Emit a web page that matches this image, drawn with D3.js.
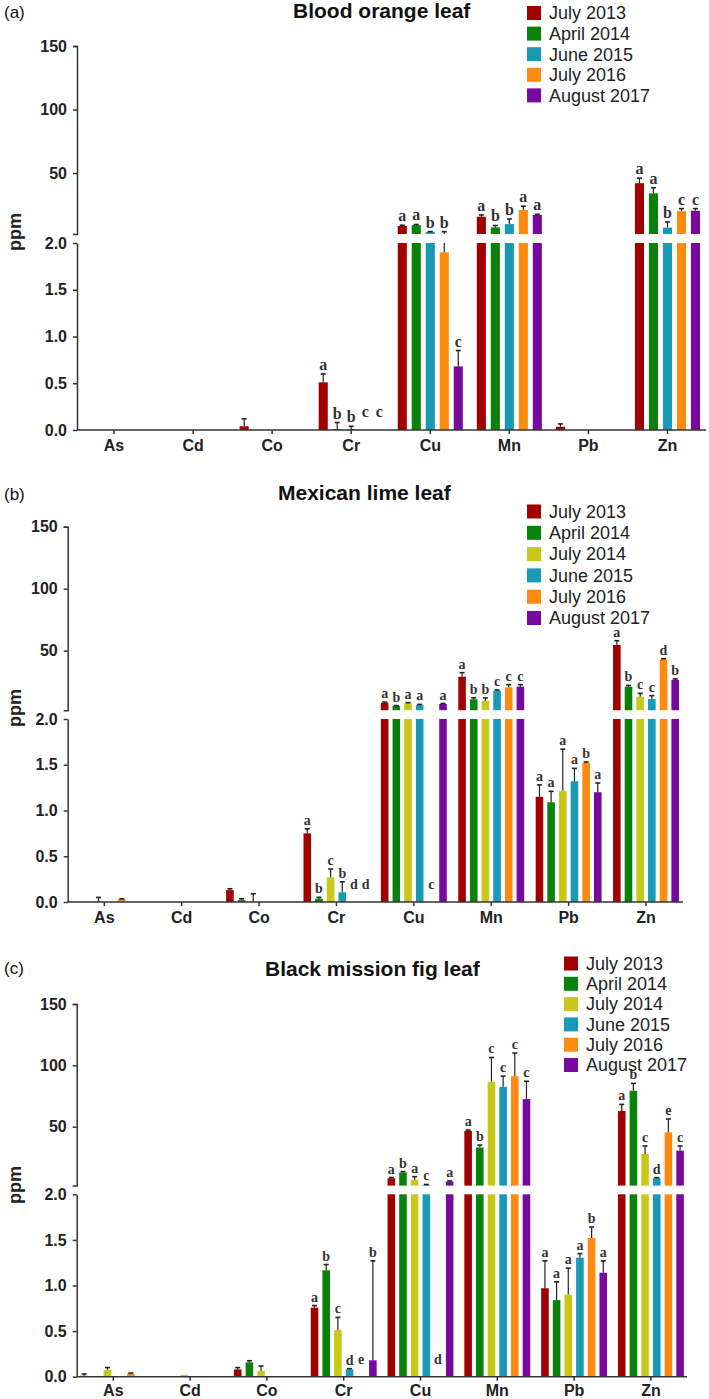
<!DOCTYPE html>
<html>
<head>
<meta charset="utf-8">
<script src="https://cdnjs.cloudflare.com/ajax/libs/d3/7.8.5/d3.min.js"></script>
<style>
  html, body { margin: 0; padding: 0; background: #fff; }
  svg { display: block; }
  .tick text { font-family: "Liberation Sans", Arial, sans-serif; font-weight: bold; fill: #222; }
</style>
</head>
<body>
<div id="chart"></div>
<script>
// ---------------- data ----------------
const elements = ["As", "Cd", "Co", "Cr", "Cu", "Mn", "Pb", "Zn"];
const seriesA = ["July 2013", "April 2014", "June 2015", "July 2016", "August 2017"];
const seriesBC = ["July 2013", "April 2014", "July 2014", "June 2015", "July 2016", "August 2017"];
const upperTicks = [50, 100, 150];
const lowerTicks = [0, 0.5, 1.0, 1.5, 2.0];
const titles = ["Blood orange leaf", "Mexican lime leaf", "Black mission fig leaf"];
const panelTags = ["(a)", "(b)", "(c)"];

// Panel (a): Blood orange leaf — rows follow seriesA, columns follow elements
const meanA = [
  [0, 0, 0.04, 0.51, 8.3, 15.6, 0.035, 42],
  [0, 0, 0, 0.01, 9.0, 7.2, 0, 34],
  [0, 0, 0, 0.01, 3.6, 9.8, 0, 7],
  [0, 0, 0, 0, 1.9, 20.9, 0, 20],
  [0, 0, 0, 0, 0.68, 17, 0, 20.3]
];
const errA = [
  [0, 0, 0.08, 0.09, 0.6, 1.4, 0.03, 4],
  [0, 0, 0, 0.07, 0.5, 1.5, 0, 4.4],
  [0, 0, 0, 0.03, 0.3, 4, 0, 4.5],
  [0, 0, 0, 0, 1.9, 3, 0, 2],
  [0, 0, 0, 0, 0.17, 0.5, 0, 1.7]
];
const letterA = [
  ["", "", "", "a", "a", "a", "", "a"],
  ["", "", "", "b", "a", "b", "", "a"],
  ["", "", "", "b", "b", "b", "", "b"],
  ["", "", "", "c", "b", "a", "", "c"],
  ["", "", "", "c", "c", "a", "", "c"]
];

// Panel (b): Mexican lime leaf — rows follow seriesBC
const meanB = [
  [0, 0, 0.13, 0.75, 8.1, 29, 1.15, 54.6],
  [0, 0, 0.02, 0.036, 5.4, 10.8, 1.09, 21],
  [0.01, 0, 0.005, 0.27, 7.6, 9.7, 1.215, 12.9],
  [0, 0, 0, 0.106, 6.2, 17.7, 1.32, 11],
  [0.03, 0, 0, 0, 0, 20.5, 1.52, 43],
  [0, 0, 0, 0, 7, 21, 1.2, 26.4]
];
const errB = [
  [0, 0, 0.015, 0.05, 0.5, 3.3, 0.13, 3.4],
  [0, 0, 0.015, 0.015, 0.3, 1.2, 0.12, 1],
  [0.04, 0, 0.085, 0.09, 0.5, 2.2, 0.455, 2.7],
  [0, 0, 0, 0.115, 0.5, 0.6, 0.14, 2.7],
  [0.005, 0, 0, 0, 0, 2.1, 0.01, 0.5],
  [0, 0, 0, 0, 0.4, 1.6, 0.1, 0.8]
];
const letterB = [
  ["", "", "", "a", "a", "a", "a", "a"],
  ["", "", "", "b", "b", "b", "a", "b"],
  ["", "", "", "c", "a", "b", "a", "c"],
  ["", "", "", "b", "a", "c", "a", "c"],
  ["", "", "", "d", "c", "c", "b", "d"],
  ["", "", "", "d", "a", "c", "a", "b"]
];

// Panel (c): Black mission fig leaf — rows follow seriesBC
const meanC = [
  [0.01, 0, 0.08, 0.757, 8, 46.5, 0.97, 62.8],
  [0, 0, 0.157, 1.167, 12.6, 33, 0.84, 79.3],
  [0.073, 0.02, 0.062, 0.51, 6.7, 86.6, 0.9, 27.8],
  [0, 0, 0, 0.08, 2.6, 82.5, 1.305, 8],
  [0.033, 0, 0, 0, 0, 91.2, 1.52, 45.4],
  [0, 0, 0, 0.18, 5.3, 72.5, 1.14, 30.5]
];
const errC = [
  [0.02, 0, 0.02, 0.023, 0.6, 0.8, 0.3, 5.4],
  [0, 0, 0.018, 0.063, 0.8, 2, 0.2, 6],
  [0.027, 0, 0.055, 0.14, 2.6, 19.8, 0.29, 6.5],
  [0, 0, 0, 0.008, 0.3, 8.7, 0.045, 0.5],
  [0.007, 0, 0, 0, 0, 18.8, 0.12, 10.9],
  [0, 0, 0, 1.09, 0.5, 14.5, 0.13, 3.8]
];
const letterC = [
  ["", "", "", "a", "a", "a", "a", "a"],
  ["", "", "", "b", "b", "b", "a", "b"],
  ["", "", "", "c", "a", "c", "a", "c"],
  ["", "", "", "d", "c", "c", "a", "d"],
  ["", "", "", "e", "d", "c", "b", "e"],
  ["", "", "", "b", "a", "c", "a", "c"]
];

// ---------------- styles / layout ----------------
const color = d3.scaleOrdinal()
  .domain(["July 2013", "April 2014", "July 2014", "June 2015", "July 2016", "August 2017"])
  .range(["#a00000", "#0a820a", "#c8c818", "#1899b5", "#ff8a10", "#77099c"]);

const layouts = [
  { axisX: 77, xRange: [74.5, 707], xEnd: 706, upper: [234, 46], lower: [430, 243],
    titleX: 293, titleY: 18, tagY: 18, legX: 527, legY: 13, legDy: 20.6, ppmY: 232,
    letterSize: 16, xPad: 6 },
  { axisX: 67.7, xRange: [65.6, 684.7], xEnd: 683, upper: [710.2, 526.7], lower: [902, 719],
    titleX: 278, titleY: 500, tagY: 500, legX: 527, legY: 511.5, legDy: 21.3, ppmY: 708,
    letterSize: 14, xPad: 6 },
  { axisX: 76.7, xRange: [74.9, 689.3], xEnd: 687, upper: [1185.6, 1004], lower: [1376.7, 1194.3],
    titleX: 265, titleY: 976, tagY: 974, legX: 564, legY: 963.5, legDy: 20.3, ppmY: 1185,
    letterSize: 14, xPad: 4 }
];

const W = 709, H = 1399;
const svg = d3.select("#chart").append("svg").attr("width", W).attr("height", H)
  .style("background", "#fff");

const sans = "'Liberation Sans', Arial, Helvetica, sans-serif";
const serif = "'Liberation Serif', 'Times New Roman', serif";

function drawPanel(idx, series, means, errs, letters) {
  const L = layouts[idx];
  const g = svg.append("g");

  const x = d3.scaleBand().domain(elements).range(L.xRange);
  const xi = d3.scaleBand().domain(series).range([-35, 35]).paddingInner(0.35).paddingOuter(0.175);
  const yU = d3.scaleLinear().domain([2, 150]).range(L.upper);
  const yL = d3.scaleLinear().domain([0, 2]).range(L.lower);

  const recs = [];
  series.forEach((s, i) => {
    elements.forEach((el, j) => {
      recs.push({ s, el, v: means[i][j], e: errs[i][j], l: letters[i][j] });
    });
  });
  const cx = d => x(d.el) + x.bandwidth() / 2 + xi(d.s) + xi.bandwidth() / 2;
  const bx = d => x(d.el) + x.bandwidth() / 2 + xi(d.s);
  const yAny = v => v <= 2 ? yL(v) : yU(v);

  // bars: lower segment
  g.append("g").selectAll("rect").data(recs.filter(d => d.v > 0)).join("rect")
    .attr("x", bx).attr("width", xi.bandwidth())
    .attr("y", d => yL(Math.min(d.v, 2)))
    .attr("height", d => yL(0) - yL(Math.min(d.v, 2)))
    .attr("fill", d => color(d.s));
  // bars: upper segment
  g.append("g").selectAll("rect").data(recs.filter(d => d.v > 2)).join("rect")
    .attr("x", bx).attr("width", xi.bandwidth())
    .attr("y", d => yU(d.v))
    .attr("height", d => yU(2) - yU(d.v))
    .attr("fill", d => color(d.s));

  // error bars
  const eg = g.append("g").attr("stroke", "#222").attr("stroke-width", 1.2);
  recs.filter(d => d.e > 0).forEach(d => {
    const top = d.v + d.e, c = cx(d);
    if (d.v < 2) {
      eg.append("line").attr("x1", c).attr("x2", c)
        .attr("y1", yL(d.v)).attr("y2", yL(Math.min(top, 2)));
    }
    if (top > 2) {
      eg.append("line").attr("x1", c).attr("x2", c)
        .attr("y1", yU(Math.max(d.v, 2))).attr("y2", yU(top));
    }
    eg.append("line").attr("x1", c - 2.5).attr("x2", c + 2.5)
      .attr("y1", yAny(top)).attr("y2", yAny(top)).attr("stroke-width", 1.6);
  });

  // letters
  g.append("g").selectAll("text").data(recs.filter(d => d.l)).join("text")
    .attr("x", cx)
    .attr("y", d => (d.v === 0 && d.e === 0) ? yL(0) - 13 : yAny(d.v + d.e) - 4)
    .attr("text-anchor", "middle")
    .attr("font-family", serif).attr("font-weight", "bold")
    .attr("font-size", L.letterSize).attr("fill", "#333")
    .text(d => d.l);

  // y axes
  const axU = g.append("g").attr("transform", `translate(${L.axisX},0)`)
    .call(d3.axisLeft(yU).tickValues(upperTicks).tickSize(4).tickSizeOuter(4).tickPadding(6));
  const axL = g.append("g").attr("transform", `translate(${L.axisX},0)`)
    .call(d3.axisLeft(yL).tickValues(lowerTicks).tickFormat(d3.format(".1f")).tickSize(4).tickSizeOuter(0).tickPadding(6));
  [axU, axL].forEach(a => {
    a.selectAll("path, line").attr("stroke", "#333").attr("stroke-width", 1.5);
    a.selectAll("text").attr("font-size", 16).attr("font-family", sans);
  });

  // x axis
  const axX = g.append("g").attr("transform", `translate(0,${yL(0)})`)
    .call(d3.axisBottom(x).tickSize(4).tickPadding(L.xPad));
  axX.select(".domain").remove();
  axX.selectAll("line").attr("stroke", "#333").attr("stroke-width", 1.5);
  axX.selectAll("text").attr("font-size", 16).attr("font-family", sans);
  g.append("line").attr("x1", L.axisX).attr("x2", L.xEnd)
    .attr("y1", yL(0)).attr("y2", yL(0)).attr("stroke", "#333").attr("stroke-width", 1.5);

  // ppm label
  g.append("text")
    .attr("transform", `translate(21,${L.ppmY}) rotate(-90)`)
    .attr("text-anchor", "middle")
    .attr("font-family", sans).attr("font-weight", "bold").attr("font-size", 18)
    .attr("fill", "#222").text("ppm");

  // title and tag
  g.append("text").attr("x", L.titleX).attr("y", L.titleY)
    .attr("font-family", sans).attr("font-weight", "bold").attr("font-size", 21)
    .attr("fill", "#111").text(titles[idx]);
  g.append("text").attr("x", 4).attr("y", L.tagY)
    .attr("font-family", sans).attr("font-size", 17).attr("fill", "#111")
    .text(panelTags[idx]);

  // legend
  const lg = g.append("g").selectAll("g").data(series).join("g")
    .attr("transform", (d, i) => `translate(${L.legX},${L.legY + i * L.legDy})`);
  lg.append("rect").attr("x", 0).attr("y", -7).attr("width", 14).attr("height", 14)
    .attr("fill", d => color(d));
  lg.append("text").attr("x", 22).attr("y", 0).attr("dy", "0.35em")
    .attr("font-family", sans).attr("font-size", 18).attr("fill", "#222")
    .text(d => d);
}

drawPanel(0, seriesA, meanA, errA, letterA);
drawPanel(1, seriesBC, meanB, errB, letterB);
drawPanel(2, seriesBC, meanC, errC, letterC);
</script>
</body>
</html>
